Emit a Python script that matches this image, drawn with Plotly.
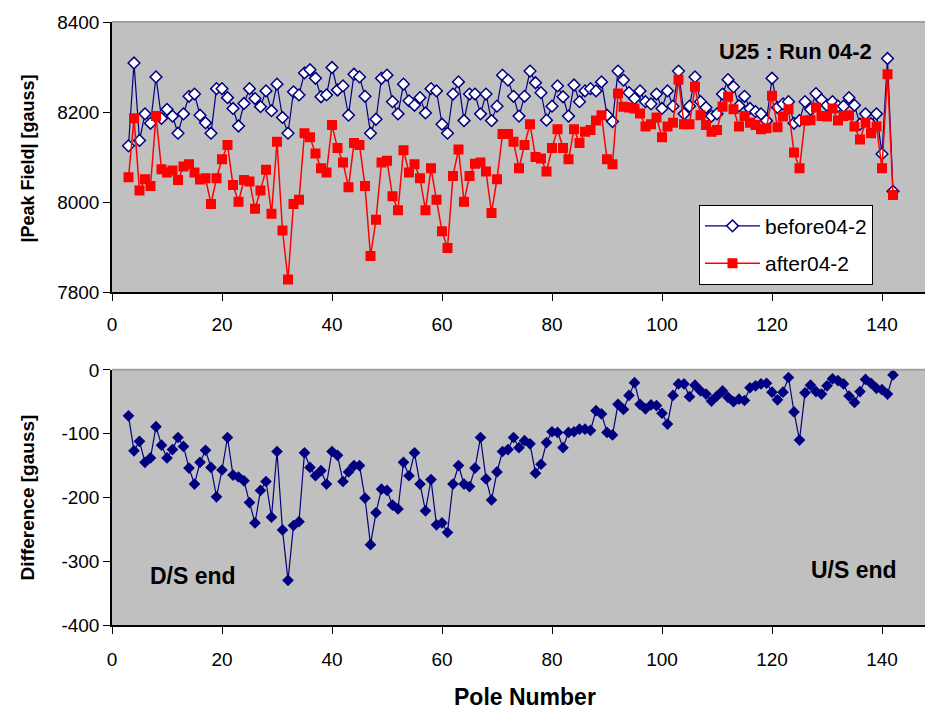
import plotly.graph_objects as go

poles = list(range(3, 143))

before = [8125, 8309, 8137, 8196, 8175, 8278, 8186, 8206, 8191, 8153,
          8196, 8235, 8240, 8193, 8176, 8153, 8252, 8252, 8232, 8208,
          8169, 8219, 8252, 8230, 8212, 8247, 8203, 8262, 8188, 8153,
          8245, 8238, 8287, 8294, 8275, 8234, 8238, 8299, 8249, 8258,
          8193, 8284, 8278, 8235, 8153, 8184, 8275, 8282, 8223, 8196,
          8262, 8225, 8215, 8232, 8198, 8252, 8247, 8173, 8153, 8240,
          8267, 8181, 8240, 8240, 8196, 8240, 8181, 8213, 8282, 8271,
          8235, 8191, 8235, 8291, 8265, 8243, 8182, 8213, 8258, 8234,
          8191, 8260, 8223, 8247, 8252, 8247, 8267, 8193, 8179, 8291,
          8271, 8243, 8230, 8247, 8223, 8218, 8240, 8208, 8247, 8213,
          8291, 8196, 8213, 8278, 8223, 8210, 8191, 8196, 8240, 8272,
          8256, 8214, 8235, 8208, 8201, 8196, 8181, 8275, 8210, 8218,
          8223, 8175, 8181, 8223, 8206, 8241, 8227, 8215, 8223, 8213,
          8213, 8232, 8215, 8173, 8196, 8174, 8196, 8107, 8319, 8024]

after = [8055, 8186, 8026, 8051, 8036, 8191, 8073, 8066, 8070, 8049,
         8079, 8084, 8066, 8050, 8053, 7996, 8053, 8095, 8127, 8038,
         8001, 8049, 8046, 7985, 8026, 8072, 7974, 8134, 7937, 7828,
         7996, 8005, 8153, 8144, 8108, 8075, 8066, 8171, 8120, 8088,
         8033, 8131, 8127, 8036, 7880, 7961, 8088, 8092, 8013, 7982,
         8115, 8066, 8084, 8053, 7982, 8075, 8005, 7935, 7898, 8058,
         8117, 8001, 8058, 8085, 8088, 8068, 7976, 8051, 8151, 8151,
         8134, 8075, 8127, 8173, 8100, 8097, 8068, 8120, 8162, 8120,
         8095, 8162, 8131, 8156, 8160, 8181, 8193, 8095, 8084, 8241,
         8212, 8210, 8208, 8197, 8168, 8173, 8188, 8144, 8168, 8176,
         8272, 8173, 8173, 8256, 8193, 8171, 8156, 8160, 8212, 8234,
         8206, 8168, 8191, 8176, 8171, 8162, 8164, 8236, 8166, 8190,
         8206, 8110, 8075, 8181, 8182, 8210, 8191, 8190, 8208, 8181,
         8191, 8193, 8168, 8139, 8176, 8153, 8168, 8075, 8284, 8016]

difference = [-72, -127, -112, -145, -138, -89, -118, -138, -125, -106,
              -120, -154, -179, -145, -126, -153, -199, -157, -106, -165,
              -168, -174, -208, -240, -189, -175, -231, -128, -251, -330,
              -244, -238, -130, -153, -166, -158, -179, -128, -134, -175,
              -160, -150, -150, -201, -274, -224, -187, -189, -212, -218,
              -145, -166, -130, -179, -221, -172, -243, -240, -255, -179,
              -150, -179, -183, -154, -106, -171, -204, -160, -128, -125,
              -106, -122, -111, -116, -162, -148, -114, -97, -98, -122,
              -98, -97, -93, -93, -95, -64, -69, -98, -102, -54,
              -62, -40, -20, -54, -61, -55, -56, -68, -85, -40,
              -22, -22, -42, -24, -33, -38, -49, -41, -33, -43,
              -50, -46, -48, -28, -25, -22, -21, -35, -47, -35,
              -12, -66, -110, -36, -24, -34, -38, -25, -14, -17,
              -22, -41, -51, -34, -15, -21, -29, -31, -38, -8]

x_ticks = [0, 20, 40, 60, 80, 100, 120, 140]
top_ticks = [7800, 8000, 8200, 8400]
bottom_ticks = [-400, -300, -200, -100, 0]
bottom_tick_text = ["-400", "-300", "-200", "-100", "0"]

NAVY = "#000080"
RED = "#FF0000"
FONT = "Arial, Liberation Sans, sans-serif"

fig = go.Figure()
fig.add_trace(go.Scatter(
    x=poles, y=before, name="before04-2", mode="lines+markers",
    line=dict(color=NAVY, width=1.2),
    marker=dict(symbol="diamond", size=9, color="white", line=dict(color=NAVY, width=1.5)),
    xaxis="x", yaxis="y", legendgroup="a"))
fig.add_trace(go.Scatter(
    x=poles, y=after, name="after04-2", mode="lines+markers",
    line=dict(color=RED, width=1.5),
    marker=dict(symbol="square", size=10, color=RED, line=dict(width=0)),
    xaxis="x", yaxis="y", legendgroup="b"))
fig.add_trace(go.Scatter(
    x=poles, y=difference, name="difference", mode="lines+markers",
    line=dict(color=NAVY, width=1.2),
    marker=dict(symbol="diamond", size=9, color=NAVY),
    xaxis="x2", yaxis="y2", showlegend=False))

axis_common = dict(showline=True, linecolor="black", linewidth=1.5, ticks="outside",
                   ticklen=7, tickcolor="black", showgrid=False, zeroline=False,
                   tickfont=dict(family=FONT, size=19, color="black"))

TOP_DOM = [0.552, 1.0]
BOT_DOM = [0.0, 0.4231]

fig.update_layout(
    width=933, height=711,
    margin=dict(l=104, r=4, t=12, b=94),
    paper_bgcolor="white", plot_bgcolor="#C0C0C0",
    font=dict(family=FONT, color="black"),
    xaxis=dict(domain=[0, 1], range=[0, 150], anchor="y", tickvals=x_ticks,
               ticklabelstandoff=7, **axis_common),
    yaxis=dict(domain=TOP_DOM, range=[7800, 8400], anchor="x", tickvals=top_ticks, **axis_common),
    xaxis2=dict(domain=[0, 1], range=[0, 150], anchor="y2", tickvals=x_ticks,
                ticklabelstandoff=9, **axis_common),
    yaxis2=dict(domain=BOT_DOM, range=[-400, 0], anchor="x2", tickvals=bottom_ticks,
                ticktext=bottom_tick_text, **axis_common),
    legend=dict(x=0.7115, y=0.697, xanchor="left", yanchor="top", bgcolor="white",
                bordercolor="black", borderwidth=1, font=dict(family=FONT, size=21, color="black"),
                tracegroupgap=7, itemwidth=55),
    showlegend=True,
    shapes=[
        dict(type="line", xref="paper", yref="paper", x0=0, x1=1, y0=TOP_DOM[1], y1=TOP_DOM[1],
             line=dict(color="#A0A0A0", width=2)),
        dict(type="line", xref="paper", yref="paper", x0=0, x1=1, y0=BOT_DOM[1], y1=BOT_DOM[1],
             line=dict(color="#A0A0A0", width=2)),
    ],
    annotations=[
        dict(text="<b>U25 : Run 04-2</b>", x=124.2, y=8334, xref="x", yref="y", showarrow=False,
             font=dict(family=FONT, size=22, color="black")),
        dict(text="<b>D/S end</b>", x=14.7, y=-323, xref="x2", yref="y2", showarrow=False,
             font=dict(family=FONT, size=23, color="black")),
        dict(text="<b>U/S end</b>", x=134.9, y=-314, xref="x2", yref="y2", showarrow=False,
             font=dict(family=FONT, size=23, color="black")),
        dict(text="<b>|Peak Field| [gauss]</b>", x=-0.1030, y=0.7736, xref="paper", yref="paper",
             textangle=-90, showarrow=False, xanchor="center", yanchor="middle",
             font=dict(family=FONT, size=18, color="black")),
        dict(text="<b>Difference [gauss]</b>", x=-0.1030, y=0.2116, xref="paper", yref="paper",
             textangle=-90, showarrow=False, xanchor="center", yanchor="middle",
             font=dict(family=FONT, size=19, color="black")),
        dict(text="<b>Pole Number</b>", x=0.5, y=-0.119, xref="paper", yref="paper",
             showarrow=False, xanchor="center", yanchor="middle",
             font=dict(family=FONT, size=23, color="black")),
    ],
)

fig.write_html("out.html")
